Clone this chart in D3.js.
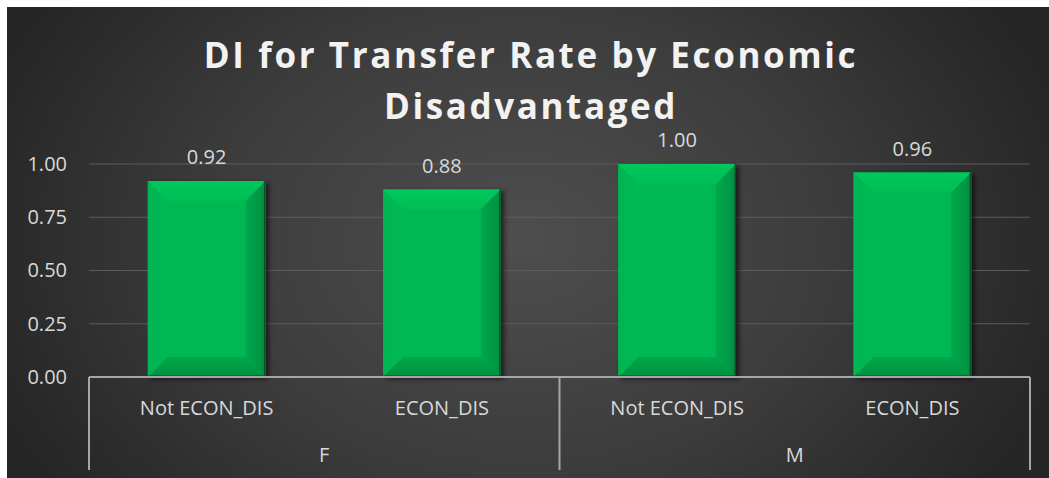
<!DOCTYPE html>
<html>
<head>
<meta charset="utf-8">
<script src="https://cdn.jsdelivr.net/npm/d3@7/dist/d3.min.js"></script>
<style>
  html, body { margin: 0; padding: 0; background: #ffffff; }
  svg { display: block; }
</style>
</head>
<body>
<svg id="chart" width="1049" height="478"></svg>
<script>
// Data
const groups = ["F", "M"];
const categories = ["Not ECON_DIS", "ECON_DIS", "Not ECON_DIS", "ECON_DIS"];
const values = [0.92, 0.88, 1.00, 0.96];
const yTicks = [0, 0.25, 0.5, 0.75, 1.0];
const titleLines = ["DI for Transfer Rate by Economic", "Disadvantaged"];

const W = 1049, H = 478;
const svg = d3.select("#chart");
const defs = svg.append("defs");
const labelFont = "'Open Sans', sans-serif";
const labelSize = 20;

// Background panel gradient
const bg = defs.append("radialGradient").attr("id", "bgGrad")
  .attr("gradientUnits", "userSpaceOnUse")
  .attr("cx", 520).attr("cy", 240).attr("r", 560)
  .attr("gradientTransform", "translate(520,240) scale(1,0.75) translate(-520,-240)");
bg.append("stop").attr("offset", "0%").attr("stop-color", "#4e4e4e");
bg.append("stop").attr("offset", "55%").attr("stop-color", "#3c3c3c");
bg.append("stop").attr("offset", "100%").attr("stop-color", "#262626");

// Facet gradients for the bevelled bars
function linGrad(id, x1, y1, x2, y2, c1, c2) {
  const g = defs.append("linearGradient").attr("id", id)
    .attr("x1", x1).attr("y1", y1).attr("x2", x2).attr("y2", y2);
  g.append("stop").attr("offset", "0%").attr("stop-color", c1);
  g.append("stop").attr("offset", "100%").attr("stop-color", c2);
}
linGrad("fTop", 0, 0, 0, 1, "#00c85c", "#00be56");
linGrad("fLeft", 0, 0, 1, 0, "#00b552", "#00b954");
linGrad("fRight", 0, 0, 1, 0, "#00a84c", "#008f40");
linGrad("fBottom", 0, 0, 0, 1, "#00a64b", "#00903f");

const shadow = defs.append("filter").attr("id", "barShadow")
  .attr("x", "-20%").attr("y", "-20%").attr("width", "140%").attr("height", "140%");
shadow.append("feGaussianBlur").attr("in", "SourceAlpha").attr("stdDeviation", 2.5).attr("result", "b");
shadow.append("feOffset").attr("in", "b").attr("dx", 3).attr("dy", 2).attr("result", "o");
shadow.append("feComponentTransfer").attr("in", "o").attr("result", "s")
  .append("feFuncA").attr("type", "linear").attr("slope", 0.6);
const m = shadow.append("feMerge");
m.append("feMergeNode").attr("in", "s");
m.append("feMergeNode").attr("in", "SourceGraphic");

svg.append("rect").attr("x", 7).attr("y", 7).attr("width", W - 7).attr("height", H - 7)
  .attr("fill", "url(#bgGrad)");

// Layout
const plot = { left: 89, right: 1030, top: 164, bottom: 377 };

const x = d3.scaleBand()
  .domain(d3.range(categories.length))
  .range([plot.left, plot.right])
  .paddingInner(0.5).paddingOuter(0.25);

const y = d3.scaleLinear().domain([0, 1]).range([plot.bottom, plot.top]);

// Gridlines
svg.append("g")
  .selectAll("line")
  .data(yTicks.filter(d => d > 0))
  .join("line")
  .attr("x1", plot.left).attr("x2", plot.right)
  .attr("y1", d => y(d)).attr("y2", d => y(d))
  .attr("stroke", "#5c5c5c").attr("stroke-width", 1);

// Y axis labels
const yAxis = d3.axisLeft(y).tickValues(yTicks).tickFormat(d3.format(".2f")).tickSize(0).tickPadding(0);
const yg = svg.append("g").attr("transform", `translate(67,0)`).call(yAxis);
yg.select(".domain").remove();
yg.selectAll("text")
  .attr("fill", "#d9d9d9")
  .attr("font-family", labelFont)
  .attr("font-size", labelSize);

// Bars with an angled bevel
const bevel = 20;
const barG = svg.append("g");
values.forEach((v, i) => {
  const x0 = x(i), x1 = x(i) + x.bandwidth();
  const y0 = y(v), y1 = y(0);
  const b = Math.min(bevel, (x1 - x0) / 2, (y1 - y0) / 2);
  const g = barG.append("g").attr("filter", "url(#barShadow)");
  g.append("rect").attr("x", x0).attr("y", y0).attr("width", x1 - x0).attr("height", y1 - y0)
    .attr("fill", "#00b852");
  const facet = (pts, fill) => g.append("polygon")
    .attr("points", pts.map(p => p.join(",")).join(" ")).attr("fill", fill);
  facet([[x0, y0], [x1, y0], [x1 - b, y0 + b], [x0 + b, y0 + b]], "url(#fTop)");
  facet([[x0, y0], [x0 + b, y0 + b], [x0 + b, y1 - b], [x0, y1]], "url(#fLeft)");
  facet([[x1, y0], [x1, y1], [x1 - b, y1 - b], [x1 - b, y0 + b]], "url(#fRight)");
  facet([[x0, y1], [x0 + b, y1 - b], [x1 - b, y1 - b], [x1, y1]], "url(#fBottom)");
  g.append("rect").attr("x", x0 + b).attr("y", y0 + b)
    .attr("width", x1 - x0 - 2 * b).attr("height", y1 - y0 - 2 * b).attr("fill", "#00b852");
  g.append("line").attr("x1", x1 - 0.75).attr("x2", x1 - 0.75).attr("y1", y0).attr("y2", y1)
    .attr("stroke", "#0b4f27").attr("stroke-width", 1.5);
  g.append("line").attr("x1", x0).attr("x2", x1).attr("y1", y1 - 0.75).attr("y2", y1 - 0.75)
    .attr("stroke", "#0b4f27").attr("stroke-width", 1.5);
});

// Data labels
svg.append("g").selectAll("text")
  .data(values)
  .join("text")
  .attr("x", (d, i) => x(i) + x.bandwidth() / 2)
  .attr("y", d => y(d) - 17)
  .attr("text-anchor", "middle")
  .attr("fill", "#d9d9d9")
  .attr("font-family", labelFont)
  .attr("font-size", labelSize)
  .text(d => d3.format(".2f")(d));

// Category axis: baseline and grouping box
const axisColor = "#a6a6a6";
const groupScale = d3.scaleBand().domain(groups).range([plot.left, plot.right]);
const ax = svg.append("g");
ax.append("line").attr("x1", plot.left).attr("x2", plot.right)
  .attr("y1", plot.bottom).attr("y2", plot.bottom)
  .attr("stroke", axisColor).attr("stroke-width", 2);
const dividers = [plot.left, ...groups.map(g => groupScale(g) + groupScale.bandwidth())];
ax.selectAll("line.div").data(dividers).join("line").attr("class", "div")
  .attr("x1", d => d).attr("x2", d => d)
  .attr("y1", plot.bottom).attr("y2", 470)
  .attr("stroke", axisColor).attr("stroke-width", 2);

ax.selectAll("text.cat").data(categories).join("text").attr("class", "cat")
  .attr("x", (d, i) => x(i) + x.bandwidth() / 2)
  .attr("y", 415)
  .attr("text-anchor", "middle")
  .attr("fill", "#d9d9d9")
  .attr("font-family", labelFont)
  .attr("font-size", labelSize)
  .text(d => d);

ax.selectAll("text.grp").data(groups).join("text").attr("class", "grp")
  .attr("x", d => groupScale(d) + groupScale.bandwidth() / 2)
  .attr("y", 462)
  .attr("text-anchor", "middle")
  .attr("fill", "#d9d9d9")
  .attr("font-family", labelFont)
  .attr("font-size", labelSize)
  .text(d => d);

// Title
svg.append("g").selectAll("text")
  .data(titleLines)
  .join("text")
  .attr("x", 531)
  .attr("y", (d, i) => 68 + i * 51)
  .attr("text-anchor", "middle")
  .attr("fill", "#f2f2f2")
  .attr("font-family", labelFont)
  .attr("font-weight", "bold")
  .attr("font-size", 35)
  .attr("letter-spacing", 2.6)
  .text(d => d);
</script>
</body>
</html>
